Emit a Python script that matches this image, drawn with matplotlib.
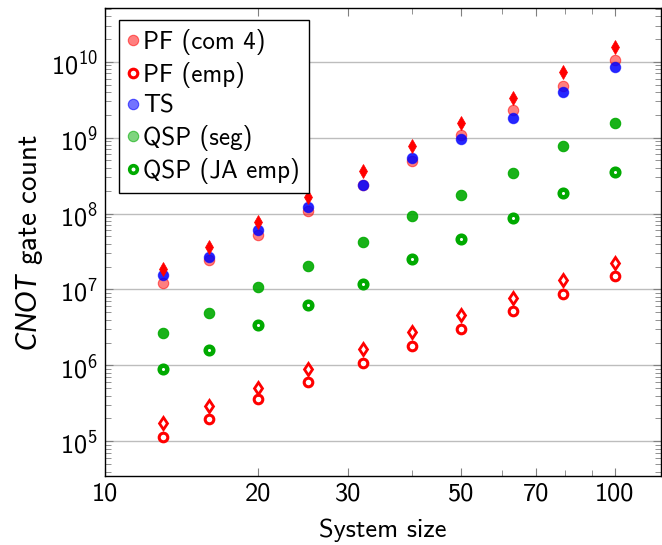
import matplotlib
matplotlib.use("Agg")
import matplotlib.pyplot as plt
from matplotlib.lines import Line2D
from matplotlib.ticker import FixedLocator, FuncFormatter, LogLocator, NullFormatter

plt.rcParams['font.family'] = ['cmss10', 'DejaVu Sans']
plt.rcParams['mathtext.fontset'] = 'custom'
plt.rcParams['mathtext.rm'] = 'cmss10'
plt.rcParams['mathtext.it'] = 'Lato:italic'
plt.rcParams['axes.formatter.use_mathtext'] = True

# system sizes
sizes = [13, 16, 20, 25, 32, 40, 50, 63, 79, 100]

# CNOT counts
pf_com4 = [1.2e7, 2.44e7, 5.2e7, 1.08e8, 2.4e8, 4.97e8, 1.08e9, 2.31e9, 4.83e9, 1.05e10]
pf_com4_upper = [1.84e7, 3.65e7, 7.8e7, 1.63e8, 3.63e8, 7.75e8, 1.57e9, 3.36e9, 7.25e9, 1.55e10]
pf_emp = [1.15e5, 1.94e5, 3.57e5, 6.08e5, 1.08e6, 1.81e6, 3.0e6, 5.19e6, 8.77e6, 1.5e7]
pf_emp_upper = [1.72e5, 2.91e5, 5.07e5, 9.1e5, 1.64e6, 2.72e6, 4.6e6, 7.78e6, 1.32e7, 2.25e7]
ts = [1.53e7, 2.7e7, 6.07e7, 1.21e8, 2.37e8, 5.33e8, 9.5e8, 1.8e9, 4.03e9, 8.44e9]
qsp_seg = [2.69e6, 4.84e6, 1.09e7, 2.05e7, 4.17e7, 9.27e7, 1.75e8, 3.45e8, 7.82e8, 1.54e9]
qsp_ja = [9.1e5, 1.59e6, 3.4e6, 6.2e6, 1.19e7, 2.54e7, 4.6e7, 8.65e7, 1.85e8, 3.49e8]

labels = ["PF (com 4)", "PF (emp)", "TS", "QSP (seg)", "QSP (JA emp)"]

green = '#00aa00'

fig = plt.figure(figsize=(6.62, 5.45), dpi=100)
ax = fig.add_axes([0.1586, 0.1266, 0.8394, 0.8582])

ax.plot(sizes, pf_com4, 'o', ls='none', ms=7.5, mfc=(1, 0, 0, 0.5), mec=(1, 0, 0, 0.55), mew=0.8)
ax.plot(sizes, pf_emp, 'o', ls='none', ms=6.2, mfc='white', mec='red', mew=2.2)
ax.plot(sizes, ts, 'o', ls='none', ms=7.5, mfc=(0, 0, 1, 0.85), mec=(0, 0, 1, 0.6), mew=0.8)
ax.plot(sizes, qsp_seg, 'o', ls='none', ms=7.5, mfc=green, mec=(0, 0.67, 0, 0.6), mew=0.8, alpha=0.9)
ax.plot(sizes, qsp_ja, 'o', ls='none', ms=5.5, mfc='white', mec=green, mew=3.2)
ax.plot(sizes, pf_com4_upper, 'd', ls='none', ms=7, mfc='red', mec='red', mew=0.5)
ax.plot(sizes, pf_emp_upper, 'd', ls='none', ms=6.5, mfc='white', mec='red', mew=2.0)

ax.set_xscale('log')
ax.set_yscale('log')
ax.set_xlim(10, 123)
ax.set_ylim(10**4.543, 10**10.704)

ax.xaxis.set_major_locator(FixedLocator([10, 20, 30, 50, 70, 100]))
ax.xaxis.set_major_formatter(FuncFormatter(lambda v, p: "%d" % round(v)))
ax.xaxis.set_minor_locator(FixedLocator([40, 60, 80, 90]))
ax.xaxis.set_minor_formatter(NullFormatter())
ax.yaxis.set_major_locator(LogLocator(base=10, numticks=20))
ax.yaxis.set_minor_locator(LogLocator(base=10, subs=range(2, 10), numticks=20))
ax.yaxis.set_minor_formatter(NullFormatter())

ax.tick_params(which='both', direction='in', top=True, right=True, color='#808080', labelsize=19)
ax.tick_params(which='major', length=6, width=0.8, pad=5)
ax.tick_params(which='minor', length=4, width=0.6)

ax.grid(True, which='major', axis='y', color='#bdbdbd', lw=1)
ax.set_axisbelow(True)
for s in ax.spines.values():
    s.set_linewidth(1.0)

ax.set_xlabel("System size", fontsize=19, labelpad=9)
ax.set_ylabel(r"$CNOT$ gate count", fontsize=21, labelpad=4)

handles = [
    Line2D([], [], ls='none', marker='o', ms=7.5, mfc=(1, 0, 0, 0.5), mec=(1, 0, 0, 0.55), mew=0.8),
    Line2D([], [], ls='none', marker='o', ms=6.2, mfc='white', mec='red', mew=2.2),
    Line2D([], [], ls='none', marker='o', ms=7.5, mfc=(0, 0, 1, 0.55), mec=(0, 0, 1, 0.6), mew=0.8),
    Line2D([], [], ls='none', marker='o', ms=7.5, mfc=(0, 0.67, 0, 0.5), mec=(0, 0.67, 0, 0.6), mew=0.8),
    Line2D([], [], ls='none', marker='o', ms=5.5, mfc='white', mec=green, mew=2.6),
]
leg = ax.legend(handles, labels, loc='upper left', bbox_to_anchor=(0.025, 0.975), borderaxespad=0,
                fontsize=18, fancybox=False, framealpha=1, edgecolor='black',
                handlelength=0.4, handletextpad=0.2, labelspacing=0.28, borderpad=0.36)
leg.get_frame().set_linewidth(1.0)

fig.savefig("out.png", dpi=100)
